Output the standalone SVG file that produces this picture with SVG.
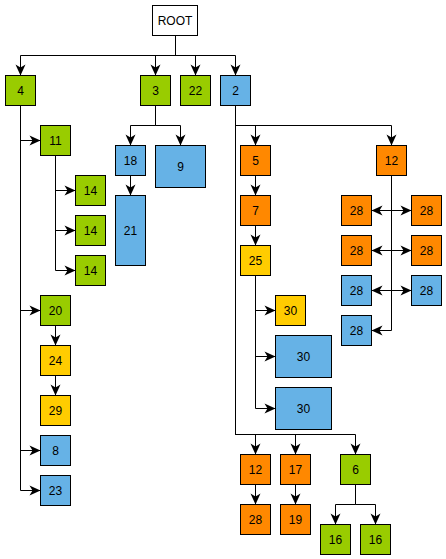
<svg xmlns="http://www.w3.org/2000/svg" width="446" height="559" viewBox="0 0 446 559">
<style>
rect{stroke:#000;stroke-width:1}
.w{fill:#fff}.g{fill:#99CC00}.o{fill:#FF8800}.y{fill:#FFCC00}.b{fill:#66B2E6}
text{font-family:"Liberation Sans",Arial,sans-serif;font-size:12px;text-anchor:middle;fill:#000}
#edges path{fill:none;stroke:#000;stroke-width:1;marker-end:url(#arr)}
#edges path.d{marker-start:url(#arrs)}
</style>
<defs>
<marker id="arr" markerUnits="userSpaceOnUse" markerWidth="14" markerHeight="14" viewBox="-12 -7 14 14" refX="0" refY="0" orient="auto">
<path d="M0,0 L-11,-5 L-8,0 L-11,5 Z" fill="#000"/>
</marker>
<marker id="arrs" markerUnits="userSpaceOnUse" markerWidth="14" markerHeight="14" viewBox="-12 -7 14 14" refX="0" refY="0" orient="auto-start-reverse">
<path d="M0,0 L-11,-5 L-8,0 L-11,5 Z" fill="#000"/>
</marker>
</defs>
<g id="edges">
<path d="M175.5,35.5 V55.5 H20.5 V75.5"/>
<path d="M175.5,35.5 V55.5 H155.5 V75.5"/>
<path d="M175.5,35.5 V55.5 H195.5 V75.5"/>
<path d="M175.5,35.5 V55.5 H235.5 V75.5"/>
<path d="M20.5,105.5 V140.5 H40.5"/>
<path d="M20.5,105.5 V310.5 H40.5"/>
<path d="M20.5,105.5 V450.5 H40.5"/>
<path d="M20.5,105.5 V490.5 H40.5"/>
<path d="M55.5,155.5 V190.5 H75.5"/>
<path d="M55.5,155.5 V230.5 H75.5"/>
<path d="M55.5,155.5 V270.5 H75.5"/>
<path d="M55.5,325.5 V345.5"/>
<path d="M55.5,375.5 V395.5"/>
<path d="M155.5,105.5 V125.5 H130.5 V145.5"/>
<path d="M155.5,105.5 V125.5 H180.5 V145.5"/>
<path d="M130.5,175.5 V195.5"/>
<path d="M235.5,105.5 V125.5 H255.5 V145.5"/>
<path d="M235.5,105.5 V125.5 H391.5 V145.5"/>
<path d="M235.5,105.5 V434.5 H255.5 V454.5"/>
<path d="M235.5,105.5 V434.5 H295.5 V454.5"/>
<path d="M235.5,105.5 V434.5 H355.5 V454.5"/>
<path d="M255.5,175.5 V195.5"/>
<path d="M255.5,225.5 V245.5"/>
<path d="M255.5,275.5 V310.5 H275.5"/>
<path d="M255.5,275.5 V356.5 H275.5"/>
<path d="M255.5,275.5 V408.5 H275.5"/>
<path d="M391.5,175.5 V330.5 H371.5"/>
<path class="d" d="M371.5,210.5 H411.5"/>
<path class="d" d="M371.5,250.5 H411.5"/>
<path class="d" d="M371.5,290.5 H411.5"/>
<path d="M255.5,484.5 V504.5"/>
<path d="M295.5,484.5 V504.5"/>
<path d="M355.5,484.5 V504.5 H335.5 V524.5"/>
<path d="M355.5,484.5 V504.5 H375.5 V524.5"/>
</g>
<g id="n-root"><rect class="w" x="152.5" y="5.5" width="45" height="30"/><text x="175" y="24.5">ROOT</text></g>
<g id="n-4"><rect class="g" x="5.5" y="75.5" width="30" height="30"/><text x="20.5" y="94.5">4</text></g>
<g id="n-3"><rect class="g" x="140.5" y="75.5" width="30" height="30"/><text x="155.5" y="94.5">3</text></g>
<g id="n-22"><rect class="g" x="180.5" y="75.5" width="30" height="30"/><text x="195.5" y="94.5">22</text></g>
<g id="n-2"><rect class="b" x="220.5" y="75.5" width="30" height="30"/><text x="235.5" y="94.5">2</text></g>
<g id="n-11"><rect class="g" x="40.5" y="125.5" width="30" height="30"/><text x="55.5" y="144.5">11</text></g>
<g id="n-14a"><rect class="g" x="75.5" y="175.5" width="30" height="30"/><text x="90.5" y="194.5">14</text></g>
<g id="n-14b"><rect class="g" x="75.5" y="215.5" width="30" height="30"/><text x="90.5" y="234.5">14</text></g>
<g id="n-14c"><rect class="g" x="75.5" y="255.5" width="30" height="30"/><text x="90.5" y="274.5">14</text></g>
<g id="n-20"><rect class="g" x="40.5" y="295.5" width="30" height="30"/><text x="55.5" y="314.5">20</text></g>
<g id="n-24"><rect class="y" x="40.5" y="345.5" width="30" height="30"/><text x="55.5" y="364.5">24</text></g>
<g id="n-29"><rect class="y" x="40.5" y="395.5" width="30" height="30"/><text x="55.5" y="414.5">29</text></g>
<g id="n-8"><rect class="b" x="40.5" y="435.5" width="30" height="30"/><text x="55.5" y="454.5">8</text></g>
<g id="n-23"><rect class="b" x="40.5" y="475.5" width="30" height="30"/><text x="55.5" y="494.5">23</text></g>
<g id="n-18"><rect class="b" x="115.5" y="145.5" width="30" height="30"/><text x="130.5" y="164.5">18</text></g>
<g id="n-9"><rect class="b" x="155.5" y="145.5" width="50" height="42"/><text x="180.5" y="170.5">9</text></g>
<g id="n-21"><rect class="b" x="115.5" y="195.5" width="30" height="70"/><text x="130.5" y="234.5">21</text></g>
<g id="n-5"><rect class="o" x="240.5" y="145.5" width="30" height="30"/><text x="255.5" y="164.5">5</text></g>
<g id="n-7"><rect class="o" x="240.5" y="195.5" width="30" height="30"/><text x="255.5" y="214.5">7</text></g>
<g id="n-25"><rect class="y" x="240.5" y="245.5" width="30" height="30"/><text x="255.5" y="264.5">25</text></g>
<g id="n-30a"><rect class="y" x="275.5" y="295.5" width="30" height="30"/><text x="290.5" y="314.5">30</text></g>
<g id="n-30b"><rect class="b" x="275.5" y="335.5" width="56" height="42"/><text x="303.5" y="360.5">30</text></g>
<g id="n-30c"><rect class="b" x="275.5" y="387.5" width="56" height="42"/><text x="303.5" y="412.5">30</text></g>
<g id="n-12"><rect class="o" x="376.5" y="145.5" width="30" height="30"/><text x="391.5" y="164.5">12</text></g>
<g id="n-28a"><rect class="o" x="341.5" y="195.5" width="30" height="30"/><text x="356.5" y="214.5">28</text></g>
<g id="n-28b"><rect class="o" x="411.5" y="195.5" width="30" height="30"/><text x="426.5" y="214.5">28</text></g>
<g id="n-28c"><rect class="o" x="341.5" y="235.5" width="30" height="30"/><text x="356.5" y="254.5">28</text></g>
<g id="n-28d"><rect class="o" x="411.5" y="235.5" width="30" height="30"/><text x="426.5" y="254.5">28</text></g>
<g id="n-28e"><rect class="b" x="341.5" y="275.5" width="30" height="30"/><text x="356.5" y="294.5">28</text></g>
<g id="n-28f"><rect class="b" x="411.5" y="275.5" width="30" height="30"/><text x="426.5" y="294.5">28</text></g>
<g id="n-28g"><rect class="b" x="341.5" y="315.5" width="30" height="30"/><text x="356.5" y="334.5">28</text></g>
<g id="n-12b"><rect class="o" x="240.5" y="454.5" width="30" height="30"/><text x="255.5" y="473.5">12</text></g>
<g id="n-17"><rect class="o" x="280.5" y="454.5" width="30" height="30"/><text x="295.5" y="473.5">17</text></g>
<g id="n-6"><rect class="g" x="340.5" y="454.5" width="30" height="30"/><text x="355.5" y="473.5">6</text></g>
<g id="n-28h"><rect class="o" x="240.5" y="504.5" width="30" height="30"/><text x="255.5" y="523.5">28</text></g>
<g id="n-19"><rect class="o" x="280.5" y="504.5" width="30" height="30"/><text x="295.5" y="523.5">19</text></g>
<g id="n-16a"><rect class="g" x="320.5" y="524.5" width="30" height="30"/><text x="335.5" y="543.5">16</text></g>
<g id="n-16b"><rect class="g" x="360.5" y="524.5" width="30" height="30"/><text x="375.5" y="543.5">16</text></g>
</svg>
